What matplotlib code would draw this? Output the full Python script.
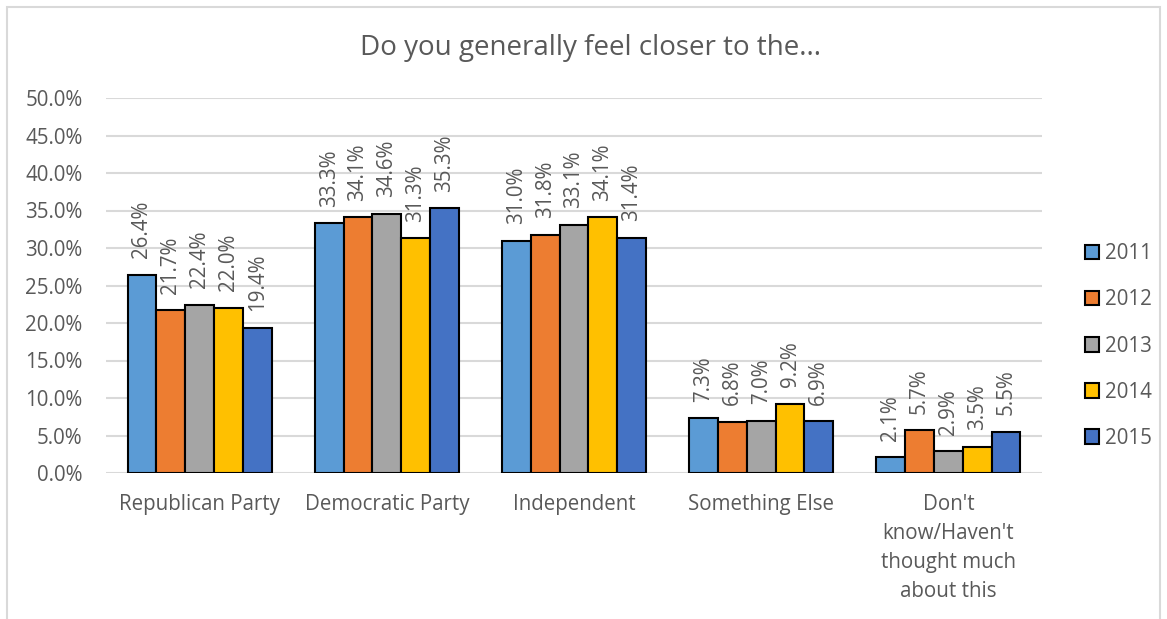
import numpy as np
import matplotlib.pyplot as plt
from matplotlib.patches import Rectangle

plt.rcParams['font.family'] = ['Open Sans', 'DejaVu Sans']

categories = ['Republican Party', 'Democratic Party', 'Independent', 'Something Else',
              "Don't\nknow/Haven't\nthought much\nabout this"]
years = ['2011', '2012', '2013', '2014', '2015']
v2011 = [26.4, 33.3, 31.0, 7.3, 2.1]
v2012 = [21.7, 34.1, 31.8, 6.8, 5.7]
v2013 = [22.4, 34.6, 33.1, 7.0, 2.9]
v2014 = [22.0, 31.3, 34.1, 9.2, 3.5]
v2015 = [19.4, 35.3, 31.4, 6.9, 5.5]
series = [v2011, v2012, v2013, v2014, v2015]
colors = ['#5B9BD5', '#ED7D31', '#A5A5A5', '#FFC000', '#4472C4']

txt = '#595959'
fs = 14.8
fig = plt.figure(figsize=(11.67, 6.19), dpi=100)
ax = fig.add_axes([106/1167, 1 - 473/619, (1042-106)/1167, (473-98)/619])

x = np.arange(len(categories))
w = 0.154
for i, (vals, c, yr) in enumerate(zip(series, colors, years)):
    pos = x + (i - 2) * w
    bars = ax.bar(pos, vals, w, color=c, edgecolor='black', linewidth=1.5, label=yr, zorder=3)
    for b, v in zip(bars, vals):
        ax.annotate(f'{v:.1f}%', (b.get_x() + b.get_width()/2, v), xytext=(0, 12),
                    textcoords='offset points', rotation=90, ha='center', va='bottom',
                    fontsize=fs, color=txt)

ax.set_xlim(-0.5, len(categories) - 0.5)
ax.set_ylim(0, 50)
ax.set_yticks(np.arange(0, 51, 5))
ax.set_yticklabels([f'{t:.1f}%' for t in np.arange(0, 51, 5)])
ax.set_xticks(x)
ax.set_xticklabels(categories, linespacing=1.5)
ax.tick_params(axis='both', length=0, labelsize=fs, colors=txt)
ax.tick_params(axis='y', pad=17)
ax.tick_params(axis='x', pad=15)
ax.grid(axis='y', color='#D9D9D9', linewidth=1.5, zorder=0)
for s in ax.spines.values():
    s.set_visible(False)

fig.text(591/1167, 1 - 48/619, 'Do you generally feel closer to the...',
         ha='center', va='center', fontsize=20, color=txt)

leg = fig.legend(loc='center left', bbox_to_anchor=(1066/1167, 1 - 346/619), frameon=False,
                 handlelength=0.7, handleheight=0.7, handletextpad=0.3, labelspacing=1.22,
                 fontsize=fs, labelcolor=txt)
for h in leg.legend_handles:
    h.set_linewidth(1.5)

fig.patches.append(Rectangle((7/1167, -0.05), (1160-7)/1167, 1.05 - 7/619, transform=fig.transFigure,
                             fill=False, edgecolor='#D9D9D9', linewidth=1.5))

fig.savefig('out.png', dpi=100)
